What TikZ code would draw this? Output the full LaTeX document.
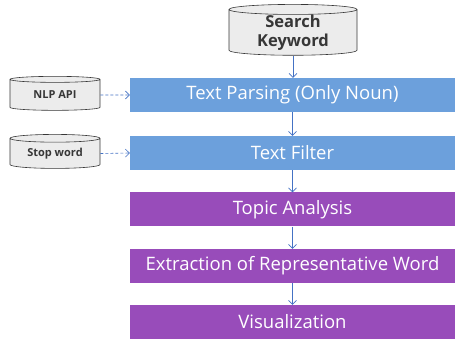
\documentclass[tikz,border=0pt]{standalone}
\usepackage{fontspec}
\setmainfont{Open Sans}
\usetikzlibrary{shapes.geometric,arrows.meta}
\definecolor{stageblue}{RGB}{108,160,220}
\definecolor{stagepurple}{RGB}{152,76,186}
\definecolor{flowblue}{RGB}{68,114,196}
\definecolor{dbfill}{RGB}{236,236,236}
\definecolor{dbtext}{RGB}{55,55,55}
\tikzset{
  stage/.style={minimum width=325pt, minimum height=34pt, inner sep=0pt, text=white,
    font=\fontsize{18.5}{21}\selectfont},
  bluestage/.style={stage, fill=stageblue},
  purplestage/.style={stage, fill=stagepurple},
  db/.style={cylinder, shape border rotate=90, aspect=0.14, draw=dbtext, semithick, fill=dbfill,
    text=dbtext, inner sep=0pt, font=\fontsize{11}{13}\selectfont\bfseries, align=center},
  flow/.style={-{Straight Barb[length=4pt,width=8pt]}, flowblue, semithick},
  feed/.style={flow, dash pattern=on 3pt off 2pt},
}
\begin{document}
\begin{tikzpicture}[x=1pt,y=1pt]
\useasboundingbox (0,0) rectangle (456,-339);

\node[db, minimum width=128pt, minimum height=49pt, font=\fontsize{16.5}{19}\selectfont\bfseries]
  (keyword) at (293,-32.5) {Search\\Keyword};
\node[db, minimum width=90pt, minimum height=34pt] (nlp) at (55,-95) {NLP API};
\node[db, minimum width=90pt, minimum height=34pt] (stop) at (55,-153.5) {Stop word};

\node[bluestage] (parse) at (292.5,-95) {Text Parsing (Only Noun)};
\node[bluestage] (filter) at (292.5,-153) {Text Filter};
\node[purplestage] (topic) at (292.5,-209.5) {Topic Analysis};
\node[purplestage] (extract) at (292.5,-266) {Extraction of Representative Word};
\node[purplestage] (visual) at (292.5,-322) {Visualization};

\draw[flow] (keyword.south) -- (keyword.south |- parse.north);
\foreach \a/\b in {parse/filter,filter/topic,topic/extract,extract/visual}
  \draw[flow] (\a) -- (\b);
\draw[feed] (nlp.east) -- (parse.west);
\draw[feed] (stop.east) -- (filter.west);

\end{tikzpicture}
\end{document}
